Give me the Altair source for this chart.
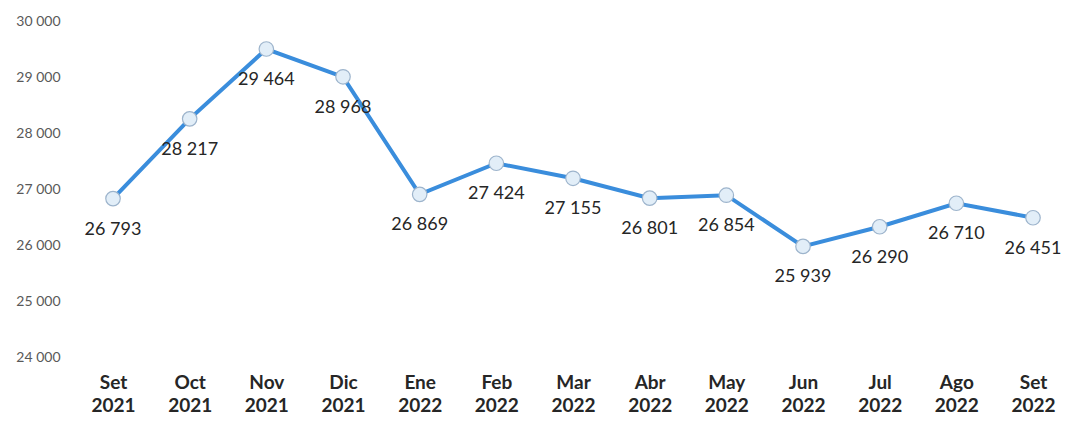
import altair as alt
import pandas as pd

months = ["Set 2021", "Oct 2021", "Nov 2021", "Dic 2021", "Ene 2022", "Feb 2022",
          "Mar 2022", "Abr 2022", "May 2022", "Jun 2022", "Jul 2022", "Ago 2022", "Set 2022"]
values = [26793, 28217, 29464, 28968, 26869, 27424, 27155, 26801, 26854, 25939, 26290, 26710, 26451]
y_ticks = [24000, 25000, 26000, 27000, 28000, 29000, 30000]

df = pd.DataFrame({"mes": months, "valor": values})

FONT = "Lato"

x = alt.X("mes:O", sort=months,
          scale=alt.Scale(type="point", padding=0.4565, align=0.643),
          axis=alt.Axis(title=None, labelAngle=0, domain=False, ticks=False, tickSize=0,
                        grid=False,
                        labelFont=FONT, labelFontSize=19, labelFontWeight="bold",
                        labelColor="#262626", labelPadding=18, labelLineHeight=23,
                        labelBaseline="top",
                        labelExpr="split(datum.value, ' ')"))
y = alt.Y("valor:Q",
          scale=alt.Scale(domain=[24000, 30000], nice=False, zero=False),
          axis=alt.Axis(title=None, values=y_ticks, grid=False, domain=False, ticks=False,
                        tickSize=0, labelFont=FONT, labelFontSize=14, labelColor="#595959",
                        labelPadding=8, labelOffset=2,
                        labelExpr="replace(format(datum.value, ','), ',', ' ')"))

base = alt.Chart(df).encode(x=x, y=y)

line = base.mark_line(color="#3a8ddc", strokeWidth=4)
pts = base.mark_point(filled=True, size=210, shape="circle", fill="#e2eef8",
                      stroke="#9db4cc", strokeWidth=1.2, opacity=1)
labels = base.transform_calculate(
    lab="replace(format(datum.valor, ','), ',', ' ')"
).mark_text(font=FONT, fontSize=18, color="#262626", dy=31, baseline="middle").encode(
    text="lab:N")

chart = alt.layer(line, pts, labels).properties(
    width=990, height=336,
    background="white",
    autosize=alt.AutoSizeParams(type="none"),
    padding={"left": 60, "top": 11, "right": 8, "bottom": 60},
).configure_view(stroke=None)

chart.save("out.html", embed_options={"renderer": "svg", "actions": False})
